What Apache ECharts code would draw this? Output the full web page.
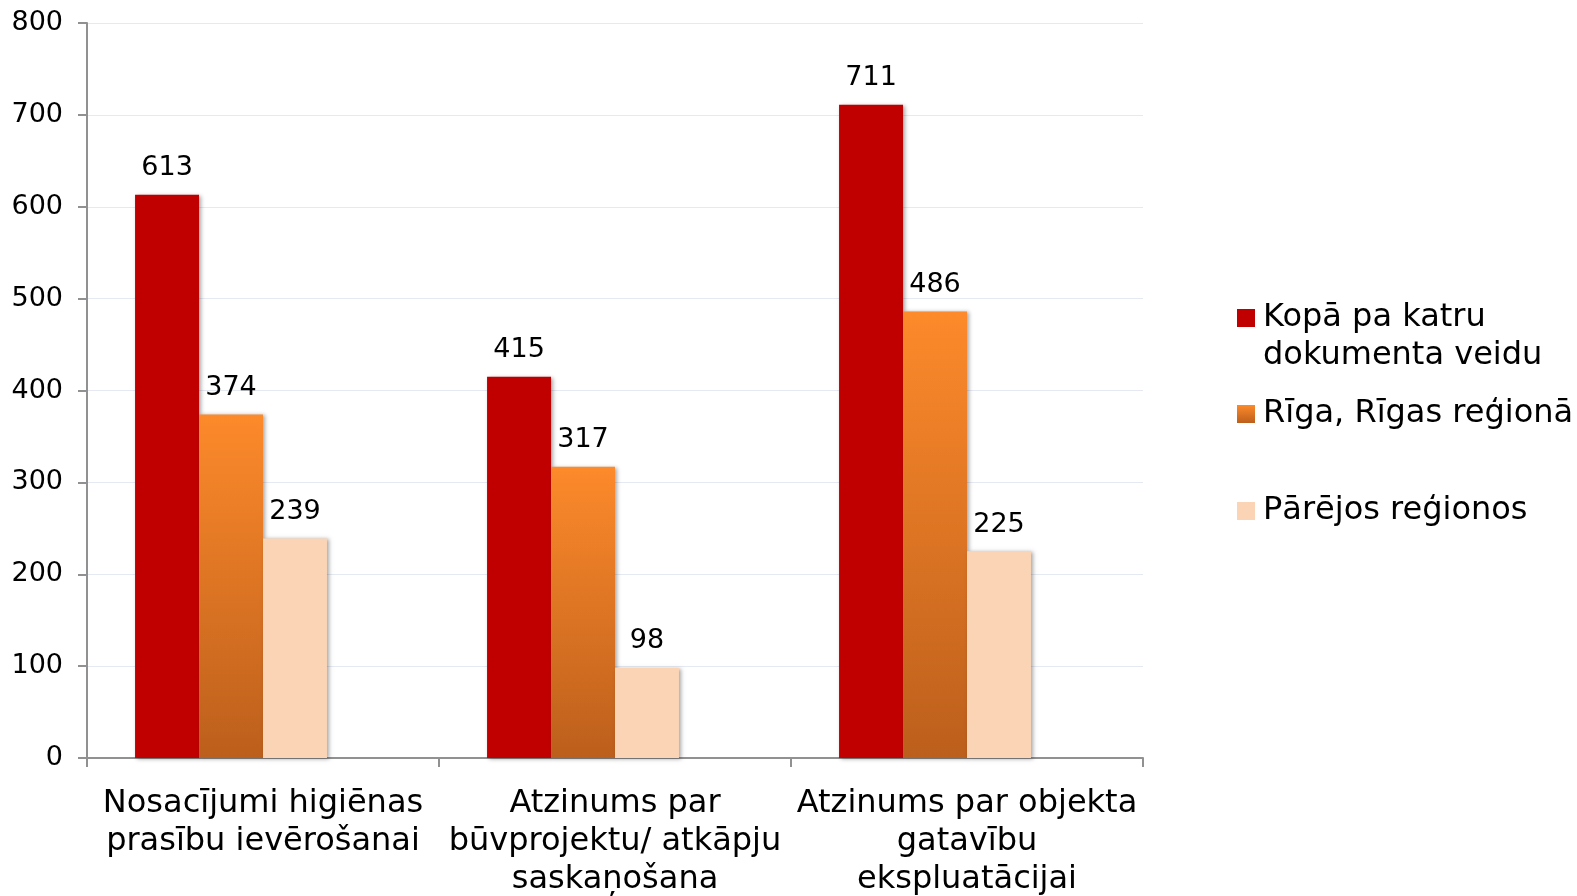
<!DOCTYPE html>
<html><head><meta charset="utf-8">
<script src="https://cdn.jsdelivr.net/npm/echarts@6/dist/echarts.min.js"></script>
<style>html,body{margin:0;padding:0;background:#fff}#c{width:1577px;height:896px}</style>
</head><body><div id="c"></div>
<script>
const categories = ['Nosacījumi higiēnas\nprasību ievērošanai', 'Atzinums par\nbūvprojektu/ atkāpju\nsaskaņošana', 'Atzinums par objekta\ngatavību\nekspluatācijai'];
const seriesNames = ['Kopā pa katru\ndokumenta veidu', 'Rīga, Rīgas reģionā', 'Pārējos reģionos'];
const totalValues = [613, 415, 711];
const rigaValues = [374, 317, 486];
const otherValues = [239, 98, 225];
const yTicks = [0, 100, 200, 300, 400, 500, 600, 700, 800];

const FONT = 'DejaVu Sans';
const chart = echarts.init(document.getElementById('c'));
const shadow = {shadowColor: 'rgba(0,0,0,0.35)', shadowBlur: 4, shadowOffsetX: 2, shadowOffsetY: 1};
const lbl = {show: true, position: 'top', distance: 13, color: '#000', fontFamily: FONT, fontSize: 27};
const legendText = {fontFamily: FONT, fontSize: 32, color: '#000', lineHeight: 38,
  rich: {t: {fontFamily: FONT, fontSize: 32, color: '#000', lineHeight: 38, padding: [0, 0, 0, 3]}}};
function legendAt(top, name, blankFirst) {
  return {orient: 'vertical', left: 1237, top: top, padding: 0, itemWidth: 18, itemHeight: 18, itemGap: 0,
    icon: 'rect', data: [name], textStyle: legendText,
    formatter: function (n) {
      const lines = n.split('\n').map(function (s) { return '{t|' + s + '}'; });
      if (blankFirst) lines.unshift('{t|\u00a0}');
      return lines.join('\n');
    }};
}
chart.setOption({
  animation: false,
  textStyle: {fontFamily: FONT},
  legend: [
    legendAt(318 - 57, seriesNames[0], true),
    legendAt(414 - 19, seriesNames[1], false),
    legendAt(511 - 19, seriesNames[2], false)
  ],
  grid: {left: 87, top: 23, right: 434, bottom: 138, containLabel: false, outerBoundsMode: 'none'},
  xAxis: {
    type: 'category', data: categories,
    axisLine: {lineStyle: {color: '#919191', width: 2}},
    axisTick: {show: true, length: 9, lineStyle: {color: '#919191', width: 2}},
    axisLabel: {color: '#000', fontFamily: FONT, fontSize: 32, lineHeight: 38, margin: 27, interval: 0}
  },
  yAxis: {
    type: 'value', min: yTicks[0], max: yTicks[yTicks.length - 1], interval: 100,
    axisLine: {show: true, lineStyle: {color: '#919191', width: 2}},
    axisTick: {show: true, length: 9, lineStyle: {color: '#919191', width: 2}},
    axisLabel: {color: '#000', fontFamily: FONT, fontSize: 27, margin: 24},
    splitLine: {lineStyle: {color: '#e4e9f2', width: 1}}
  },
  series: [
    {name: seriesNames[0], type: 'bar', data: totalValues, barGap: '0%', barCategoryGap: '27.3%',
      itemStyle: Object.assign({color: '#c00000'}, shadow), label: lbl},
    {name: seriesNames[1], type: 'bar', data: rigaValues,
      itemStyle: Object.assign({color: new echarts.graphic.LinearGradient(0, 0, 0, 1, [
        {offset: 0, color: '#fd8a2b'}, {offset: 1, color: '#bc5f1c'}])}, shadow), label: lbl},
    {name: seriesNames[2], type: 'bar', data: otherValues,
      itemStyle: Object.assign({color: '#fad4b5'}, shadow), label: lbl},
    {name: 'spacer', type: 'bar', data: [null, null, null], silent: true}
  ]
});
</script></body></html>
